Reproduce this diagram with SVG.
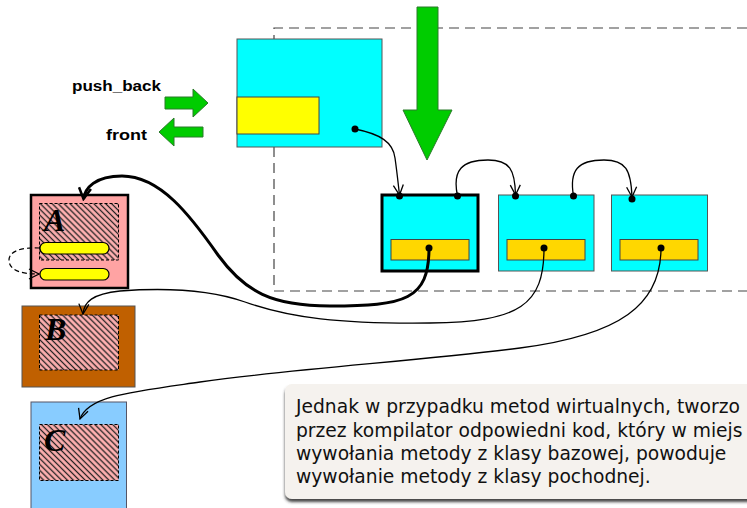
<svg xmlns="http://www.w3.org/2000/svg" width="747" height="508" viewBox="0 0 747 508">
<style>
.cyan{fill:#00FFFF;stroke:#555;stroke-width:1}
.gold{fill:#FFD700;stroke:#444;stroke-width:1}
.dot{fill:#000}
.green{fill:#00CC00;stroke:#2a7a2a;stroke-width:1}
.hatch{fill:url(#hatch);stroke:#000;stroke-width:1;stroke-dasharray:3 2}
.letter{font-family:"Liberation Serif",serif;font-weight:bold;font-style:italic;font-size:32px;fill:#000}
.lbl{font-family:"Liberation Sans",Arial,sans-serif;font-weight:bold;font-size:14px;fill:#000}
.body{font-family:"DejaVu Sans",sans-serif;font-size:18.7px;fill:#111}
.conn{fill:none;stroke:#000;stroke-width:1.3}
.pill{fill:#FFFF00;stroke:#000;stroke-width:1.2}
</style>
<defs>
<pattern id="hatch" patternUnits="userSpaceOnUse" width="4.2" height="4.2" patternTransform="rotate(45)">
<rect width="4.2" height="4.2" fill="#FFB0B0"/>
<line x1="0" y1="2.1" x2="4.2" y2="2.1" stroke="#222" stroke-width="1.3"/>
</pattern>
<marker id="open" viewBox="0 0 12 12" refX="11" refY="6" markerWidth="12" markerHeight="12" markerUnits="userSpaceOnUse" orient="auto">
<path d="M1,1 L11,6 L1,11" fill="none" stroke="#000" stroke-width="1.3"/>
</marker>
<marker id="openThick" viewBox="0 0 14 14" refX="12" refY="7" markerWidth="14" markerHeight="14" markerUnits="userSpaceOnUse" orient="auto">
<path d="M1,1 L12,7 L1,13" fill="none" stroke="#000" stroke-width="2.5"/>
</marker>
<filter id="shadow" x="-5%" y="-10%" width="110%" height="130%">
<feDropShadow dx="0" dy="3" stdDeviation="1.5" flood-color="#333" flood-opacity="0.9"/>
</filter>
</defs>
<rect width="747" height="508" fill="#FFFFFF"/>

<g id="region">
<path d="M747,28 L274,28 L274,291 L747,291" fill="none" stroke="#444" stroke-width="1.2" stroke-dasharray="10 6"/>
</g>

<g id="list-head">
<rect class="cyan" x="237" y="39" width="145" height="108"/>
<rect x="237" y="97" width="82" height="37" fill="#FFFF00" stroke="#444" stroke-width="1"/>
<circle class="dot" cx="355" cy="129" r="3.5"/>
</g>

<g id="push-arrow">
<text class="lbl" x="72" y="91" textLength="89" lengthAdjust="spacingAndGlyphs">push_back</text>
<path class="green" d="M165,97 L193,97 L193,89 L208,103 L193,117 L193,109 L165,109 Z"/>
</g>
<g id="front-arrow">
<text class="lbl" x="106" y="140" textLength="41" lengthAdjust="spacingAndGlyphs">front</text>
<path class="green" d="M203,127 L174,127 L174,118 L159,132 L174,146 L174,137 L203,137 Z"/>
</g>

<g id="insert-arrow">
<path class="green" d="M417,7 L438,7 L438,110 L452,110 L427,160 L403,110 L417,110 Z"/>
</g>

<g id="node1">
<rect x="382" y="195" width="96" height="76" fill="#00FFFF" stroke="#000" stroke-width="3"/>
<rect class="gold" x="391" y="239.5" width="78" height="20.5"/>
<circle class="dot" cx="429" cy="248" r="3.5"/>
<circle class="dot" cx="399.5" cy="196" r="3.5"/>
<circle class="dot" cx="457.5" cy="196" r="3.5"/>
</g>
<g id="node2">
<rect class="cyan" x="498.5" y="195" width="95.5" height="76"/>
<rect class="gold" x="507" y="239.5" width="78" height="20.5"/>
<circle class="dot" cx="544" cy="248" r="3.5"/>
<circle class="dot" cx="515.5" cy="196" r="3.5"/>
<circle class="dot" cx="573.5" cy="196" r="3.5"/>
</g>
<g id="node3">
<rect class="cyan" x="611.5" y="195" width="96" height="76"/>
<rect class="gold" x="620" y="239.5" width="78" height="20.5"/>
<circle class="dot" cx="661" cy="248" r="3.5"/>
<circle class="dot" cx="632" cy="199" r="3.5"/>
</g>

<g id="objA">
<rect x="31" y="195" width="97" height="93" fill="#FFA3A3" stroke="#000" stroke-width="2.5"/>
<rect class="hatch" x="39.5" y="203.5" width="79" height="56.5"/>
<text class="letter" x="44" y="231">A</text>
<rect class="pill" x="40" y="242.5" width="69" height="11.5" rx="5.75"/>
<rect class="pill" x="40" y="268.5" width="69" height="11.5" rx="5.75"/>
</g>

<g id="objB">
<rect x="22" y="306" width="113" height="81" fill="#C06000" stroke="#555" stroke-width="1"/>
<rect class="hatch" x="39.5" y="315" width="79" height="55"/>
<text class="letter" x="45" y="340">B</text>
</g>

<g id="objC">
<rect x="31" y="402" width="95.5" height="110" fill="#88CCFF" stroke="#556" stroke-width="1"/>
<rect class="hatch" x="39.5" y="424.5" width="79" height="56"/>
<text class="letter" x="44" y="451">C</text>
</g>

<g id="connectors">
<path class="conn" d="M355,129 C380,134 393,142 395,158 C397,172 398,182 399.5,195" marker-end="url(#open)"/>
<path class="conn" d="M457.5,196 C452,170 462,160 488,160 C510,160 515,170 515.5,195" marker-end="url(#open)"/>
<path class="conn" d="M573.5,196 C569,170 578,160 604,160 C626,160 631,170 632,197" marker-end="url(#open)"/>
<path d="M429,248 C429,300 405,306 330,306 C272,306 245,292 218,255 C190,215 160,176 122,176 C95,176 85,188 83.5,199" fill="none" stroke="#000" stroke-width="3" marker-end="url(#openThick)"/>
<path class="conn" d="M544,248 C544,305 520,322 430,323 C340,324 290,318 245,302 C205,288 160,288 120,291 C92,294 84,302 83,314" marker-end="url(#open)"/>
<path class="conn" d="M661,248 C661,305 620,335 520,348 C420,361 300,368 200,382 C130,392 88,396 80,419" marker-end="url(#open)"/>
<path d="M40,248 C22,247 9,251 9,260 C9,270 20,274 39,274" fill="none" stroke="#000" stroke-width="1.2" stroke-dasharray="5 3" marker-end="url(#open)"/>
</g>

<g id="note">
<rect x="285" y="384" width="480" height="115" rx="7" fill="#F5F2EE" filter="url(#shadow)"/>
<text class="body" x="296" y="413">Jednak w przypadku metod wirtualnych, tworzo</text>
<text class="body" x="296" y="436.5">przez kompilator odpowiedni kod, który w miejs</text>
<text class="body" x="296" y="459.5">wywołania metody z klasy bazowej, powoduje</text>
<text class="body" x="296" y="483">wywołanie metody z klasy pochodnej.</text>
</g>
</svg>
